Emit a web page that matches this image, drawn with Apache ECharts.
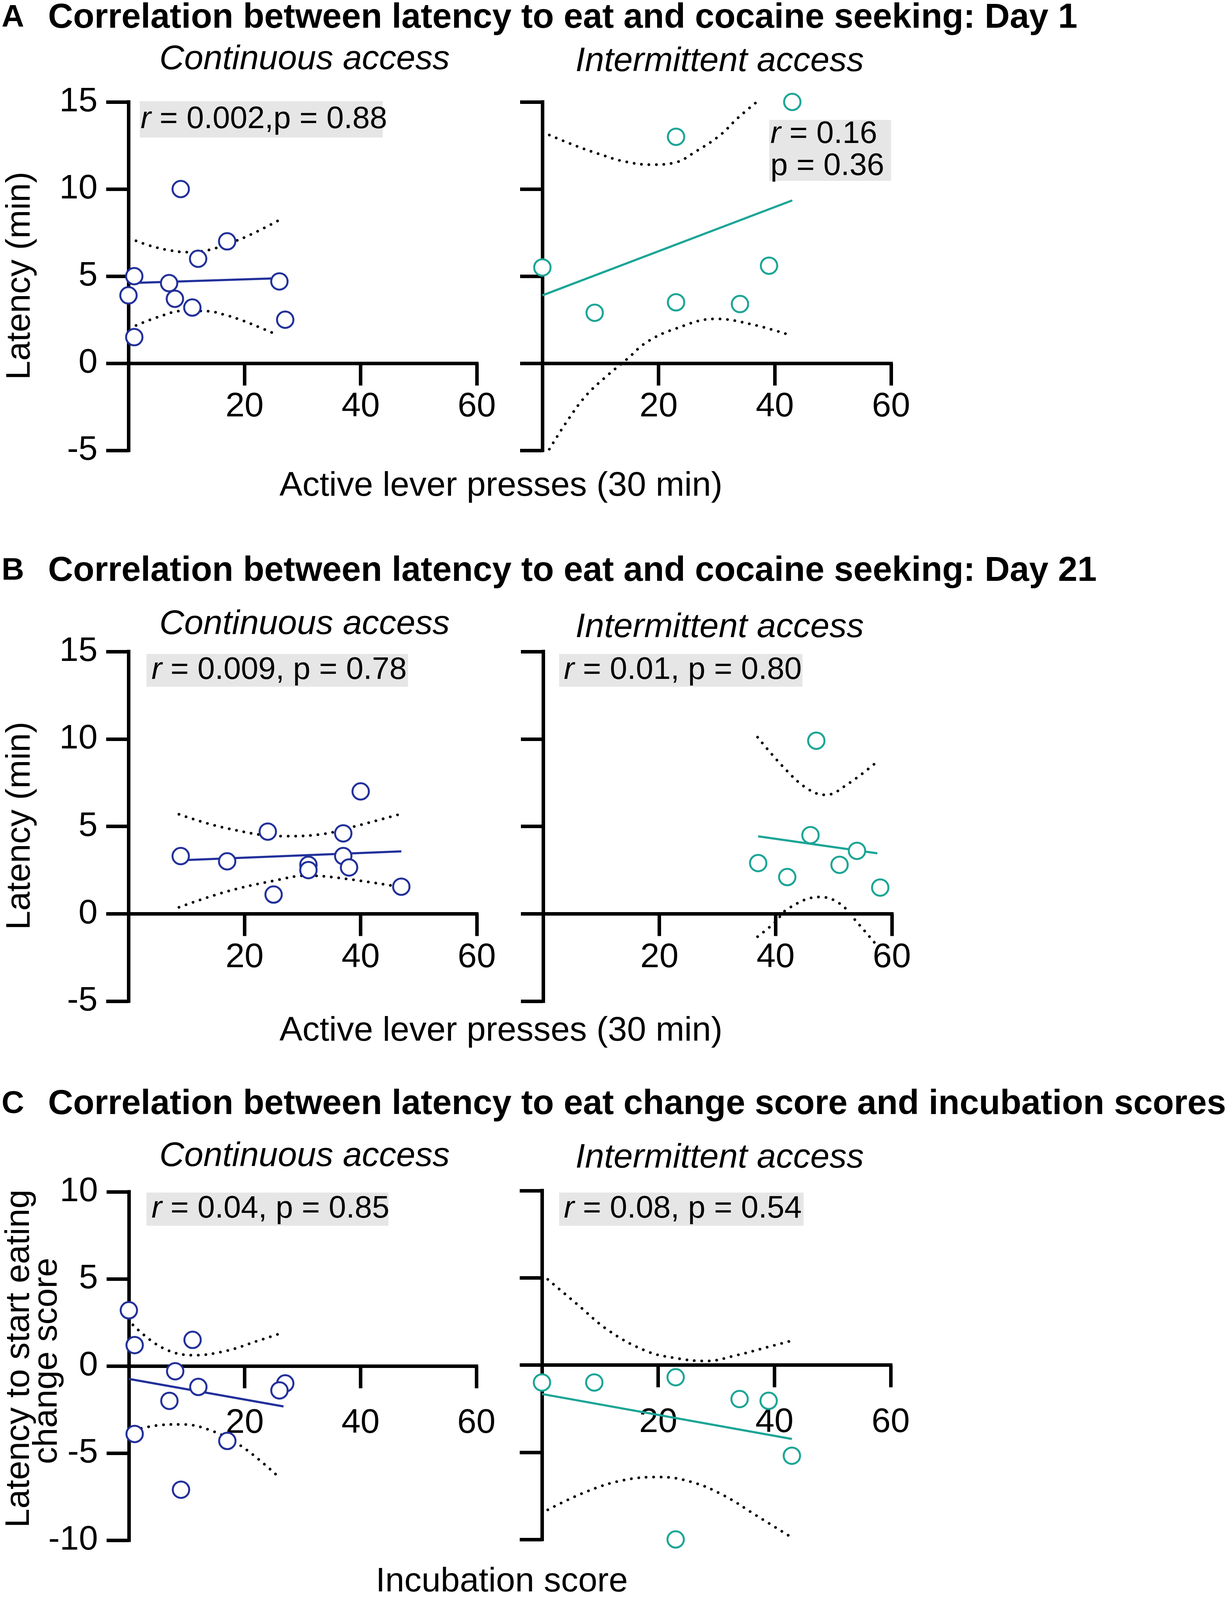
<!DOCTYPE html>
<html lang="en">
<head>
    <meta charset="UTF-8">
    <title>Latency to eat vs cocaine seeking</title>
    <script src="https://cdn.jsdelivr.net/npm/echarts@6/dist/echarts.min.js"></script>
    <style>
        body { margin: 0; background: #fff; }
        #chart { width: 3150px; height: 4100px; }
    </style>
</head>
<body>
<div id="chart"></div>
<script>
    // ---- data ----
    // A: Day 1, continuous access
    const accA_x = [9, 17, 12, 1, 7, 26, 0, 8, 11, 27, 1];
    const accA_y = [10, 7, 6, 5, 4.6, 4.7, 3.9, 3.7, 3.2, 2.5, 1.5];
    const accA_fit = [[0, 4.6], [26.5, 4.89]];
    const accA_upper = [[1.3, 7.03], [4, 6.72], [7, 6.49], [10, 6.38], [13.8, 6.5], [17, 6.85], [20.5, 7.3], [25.8, 8.19]];
    const accA_lower = [[1.3, 2.17], [5.3, 2.68], [9.4, 3.01], [13.7, 2.99], [16.5, 2.79], [19.1, 2.52], [21.8, 2.17], [25.8, 1.61]];
    // A: Day 1, intermittent access
    const intA_x = [43, 23, 0, 39, 9, 23, 34];
    const intA_y = [15, 13, 5.5, 5.6, 2.9, 3.5, 3.4];
    const intA_fit = [[0, 3.9], [43, 9.35]];
    const intA_upper = [[1.2, 13.1], [6, 12.45], [9.9, 12.0], [13.9, 11.6], [18.7, 11.4], [22.6, 11.5], [26.6, 12.2], [30.6, 13.1], [33.7, 14.1], [36.9, 15.0]];
    const intA_lower = [[1.2, -4.93], [4.4, -3.25], [7.5, -1.86], [10.7, -0.84], [14.7, 0.28], [17.9, 1.2], [22.6, 1.95], [29.8, 2.55], [36.1, 2.23], [42.6, 1.62]];
    // B: Day 21, continuous access
    const accB_x = [9, 17, 24, 25, 31, 31, 37, 37, 38, 40, 47];
    const accB_y = [3.3, 3.0, 4.7, 1.1, 2.8, 2.5, 4.6, 3.3, 2.65, 7.0, 1.55];
    const accB_fit = [[9, 3.06], [47, 3.57]];
    const accB_upper = [[8.7, 5.69], [16.8, 4.9], [26.8, 4.44], [33.5, 4.56], [39, 5.0], [46.7, 5.69]];
    const accB_lower = [[8.7, 0.37], [16.8, 1.26], [25.2, 1.9], [30.7, 2.18], [36.3, 2.05], [46.7, 1.54]];
    // B: Day 21, intermittent access
    const intB_x = [47, 46, 54, 37, 51, 42, 58];
    const intB_y = [9.9, 4.5, 3.6, 2.9, 2.8, 2.1, 1.5];
    const intB_fit = [[37, 4.43], [57.5, 3.46]];
    const intB_upper = [[36.9, 10.1], [41.4, 8.37], [45.4, 7.17], [48.6, 6.8], [52.5, 7.44], [57.1, 8.6]];
    const intB_lower = [[36.9, -1.31], [39.8, -0.52], [42.2, 0.31], [47.6, 0.96], [51, 0.59], [54.1, -0.52], [57.3, -1.76]];
    // C: change score vs incubation score, continuous access
    const accC_x = [0, 1, 11, 8, 12, 27, 26, 7, 1, 17, 9];
    const accC_y = [3.2, 1.2, 1.5, -0.3, -1.2, -1.0, -1.4, -2.0, -3.9, -4.3, -7.1];
    const accC_fit = [[0, -0.74], [26.7, -2.32]];
    const accC_upper = [[0.7, 2.36], [5.7, 1.06], [11.2, 0.62], [16.8, 0.87], [22.3, 1.45], [26.7, 1.93]];
    const accC_lower = [[0.9, -3.68], [5.7, -3.38], [9, -3.35], [14, -3.68], [19.6, -4.64], [25.9, -6.38]];
    // C: intermittent access
    const intC_x = [0, 9, 23, 34, 39, 43, 23];
    const intC_y = [-1.0, -1.0, -0.7, -1.95, -2.05, -5.2, -10];
    const intC_fit = [[0, -1.66], [43, -4.24]];
    const intC_upper = [[1, 4.91], [6, 3.5], [11.5, 1.97], [17.9, 0.81], [22.6, 0.42], [28.2, 0.23], [33.7, 0.58], [38.5, 1.0], [42.9, 1.39]];
    const intC_lower = [[1, -8.3], [7.5, -7.28], [13.9, -6.61], [20.2, -6.42], [25.8, -6.71], [31.3, -7.48], [36.9, -8.63], [42.5, -9.79]];

    const xTicks = [0, 60, 20];          // min, max, interval
    const yTicksAB = [-5, 15, 5];
    const yTicksC = [-10, 10, 5];

    const titles = [
        'Correlation between latency to eat and cocaine seeking: Day 1',
        'Correlation between latency to eat and cocaine seeking: Day 21',
        'Correlation between latency to eat change score and incubation scores'
    ];
    const stats = [
        '{i|r} = 0.002,p = 0.88', '{i|r} = 0.16\np = 0.36',
        '{i|r} = 0.009, p = 0.78', '{i|r} = 0.01, p = 0.80',
        '{i|r} = 0.04, p = 0.85', '{i|r} = 0.08, p = 0.54'
    ];

    const BLUE = '#22309a';
    const TEAL = '#1ba596';
    const FONT = "'Liberation Sans', Arial, sans-serif";

    const chart = echarts.init(document.getElementById('chart'), null, { renderer: 'canvas' });

    const grids = [
        { left: 329, top: 261, width: 892, height: 892 },
        { left: 1389, top: 261, width: 893, height: 892 },
        { left: 329, top: 1668, width: 892, height: 895 },
        { left: 1391, top: 1668, width: 893, height: 895 },
        { left: 330, top: 3051, width: 890, height: 892 },
        { left: 1388, top: 3048, width: 893, height: 893 }
    ].map(function (g) { return Object.assign({ outerBoundsMode: 'none', containLabel: false }, g); });

    const panels = [
        { x: accA_x, y: accA_y, fit: accA_fit, up: accA_upper, lo: accA_lower, color: BLUE },
        { x: intA_x, y: intA_y, fit: intA_fit, up: intA_upper, lo: intA_lower, color: TEAL },
        { x: accB_x, y: accB_y, fit: accB_fit, up: accB_upper, lo: accB_lower, color: BLUE },
        { x: intB_x, y: intB_y, fit: intB_fit, up: intB_upper, lo: intB_lower, color: TEAL },
        { x: accC_x, y: accC_y, fit: accC_fit, up: accC_upper, lo: accC_lower, color: BLUE },
        { x: intC_x, y: intC_y, fit: intC_fit, up: intC_upper, lo: intC_lower, color: TEAL }
    ];

    const axisLine = { onZero: false, lineStyle: { color: '#000', width: 9, cap: 'square' } };
    const axisTick = { show: true, length: 57, lineStyle: { color: '#000', width: 9 } };

    // x axis sits on y = 0: shift it up from the grid bottom by hand
    const xAxes = grids.map(function (g, i) {
        const t = i >= 4 ? yTicksC : yTicksAB;
        const zeroUp = g.height * (0 - t[0]) / (t[1] - t[0]);
        return {
            type: 'value', gridIndex: i, position: 'bottom', offset: -zeroUp,
            min: xTicks[0], max: xTicks[1], interval: xTicks[2],
            axisLine: axisLine, axisTick: axisTick,
            splitLine: { show: false },
            axisLabel: {
                showMinLabel: false, color: '#000', fontSize: 88, fontFamily: FONT,
                margin: i >= 4 ? 103 : 68
            }
        };
    });

    const yAxes = grids.map(function (g, i) {
        const t = i >= 4 ? yTicksC : yTicksAB;
        return {
            type: 'value', gridIndex: i, position: 'left',
            min: t[0], max: t[1], interval: t[2],
            axisLine: axisLine, axisTick: axisTick,
            splitLine: { show: false },
            axisLabel: { show: i % 2 === 0, color: '#000', fontSize: 88, fontFamily: FONT, margin: 79 }
        };
    });

    const series = [];
    panels.forEach(function (p, i) {
        const band = {
            type: 'line', xAxisIndex: i, yAxisIndex: i, smooth: 0.4,
            symbol: 'none', z: 2,
            lineStyle: { color: '#000', width: 7, type: [0.1, 19], cap: 'round' }
        };
        series.push(Object.assign({}, band, { data: p.up }));
        series.push(Object.assign({}, band, { data: p.lo }));
        series.push({
            type: 'line', xAxisIndex: i, yAxisIndex: i, data: p.fit,
            symbol: 'none', z: 3,
            lineStyle: { color: p.color, width: 5.5 }
        });
        series.push({
            type: 'scatter', xAxisIndex: i, yAxisIndex: i, z: 5,
            data: p.x.map(function (v, k) { return [v, p.y[k]]; }),
            symbol: 'circle', symbolSize: 42,
            itemStyle: { color: '#fff', borderColor: p.color, borderWidth: 5, opacity: 1 }
        });
    });

    function txt(x, y, text, font, align, rotation) {
        return {
            type: 'text', x: x, y: y, z: 10, rotation: rotation || 0,
            style: {
                text: text, font: font, fill: '#000',
                align: align || 'left', verticalAlign: 'middle',
                textAlign: align || 'left', textVerticalAlign: 'middle'
            }
        };
    }

    const graphics = [];
    const rowTitleY = [46, 1462, 2827];
    const rowSubY = [[153, 158], [1599, 1607], [2961, 2965]];
    ['A', 'B', 'C'].forEach(function (letter, r) {
        graphics.push(txt(4, rowTitleY[r], letter, 'bold 80px ' + FONT));
        graphics.push(txt(123, rowTitleY[r], titles[r], 'bold 89px ' + FONT));
        graphics.push(txt(780, rowSubY[r][0], 'Continuous access', 'italic 88px ' + FONT, 'center'));
        graphics.push(txt(1843, rowSubY[r][1], 'Intermittent access', 'italic 88px ' + FONT, 'center'));
    });
    // axis titles
    const vert = Math.PI / 2;
    graphics.push(txt(52, 706, 'Latency (min)', '88px ' + FONT, 'center', vert));
    graphics.push(txt(52, 2114, 'Latency (min)', '88px ' + FONT, 'center', vert));
    graphics.push(txt(50, 3478, 'Latency to start eating', '88px ' + FONT, 'center', vert));
    graphics.push(txt(121, 3484, 'change score', '88px ' + FONT, 'center', vert));
    graphics.push(txt(1283, 1245, 'Active lever presses (30 min)', '88px ' + FONT, 'center'));
    graphics.push(txt(1283, 2640, 'Active lever presses (30 min)', '88px ' + FONT, 'center'));
    graphics.push(txt(1285, 4050, 'Incubation score', '88px ' + FONT, 'center'));

    // grey stat boxes
    const boxes = [
        [358, 259, 622, 93, 360, 306],
        [1970, 307, 312, 156, 1973, 385],
        [375, 1674, 670, 84, 388, 1716],
        [1432, 1674, 623, 84, 1444, 1716],
        [375, 3053, 620, 85, 388, 3095],
        [1432, 3053, 626, 85, 1444, 3095]
    ];
    boxes.forEach(function (b, i) {
        graphics.push({
            type: 'rect', z: 8,
            shape: { x: b[0], y: b[1], width: b[2], height: b[3] },
            style: { fill: '#e6e6e6' }
        });
        graphics.push({
            type: 'text', x: b[4], y: b[5], z: 10,
            style: {
                text: stats[i], fill: '#000', fontSize: 80, fontFamily: FONT, lineHeight: 82,
                align: 'left', verticalAlign: 'middle',
                rich: { i: { fontStyle: 'italic', fontSize: 80, fontFamily: FONT, fill: '#000' } }
            }
        });
    });

    chart.setOption({
        animation: false,
        backgroundColor: '#fff',
        grid: grids,
        xAxis: xAxes,
        yAxis: yAxes,
        series: series,
        graphic: { elements: graphics }
    });
</script>
</body>
</html>
